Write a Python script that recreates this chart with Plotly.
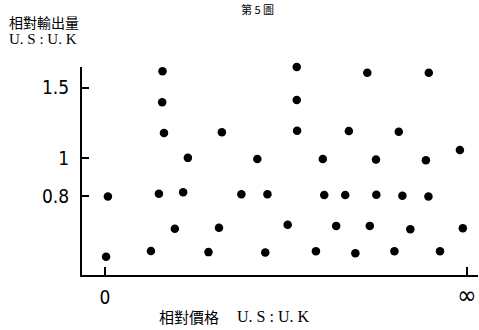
import plotly.graph_objects as go

# Relative price position (0 = "0", 100 = "∞") and relative output (U.S : U.K)
price_pos = [0.8, 0.3, 15.9, 15.8, 16.3, 32.3, 22.9, 42.1, 14.9, 21.6, 37.7, 44.9,
             19.3, 31.5, 12.7, 28.6, 44.3, 53.0, 72.5, 89.5, 53.0, 53.1, 67.4, 81.2,
             98.1, 60.2, 74.9, 88.7, 60.6, 66.4, 75.0, 82.2, 89.4, 50.5, 63.9, 73.2,
             84.4, 98.9, 58.3, 69.2, 80.0, 92.6]
rel_output = [0.80, 0.565, 1.65, 1.38, 1.155, 1.16, 1.0, 0.993, 0.813, 0.82, 0.81, 0.81,
              0.664, 0.668, 0.584, 0.58, 0.579, 1.69, 1.636, 1.636, 1.397, 1.17, 1.168, 1.163,
              1.046, 0.993, 0.99, 0.986, 0.807, 0.807, 0.808, 0.803, 0.80, 0.679, 0.675, 0.675,
              0.662, 0.666, 0.583, 0.576, 0.583, 0.583]

y_tickvals = [0.8, 1, 1.5]
y_ticktext = ["0.8", "1", "1.5"]
x_tickvals = [0, 100]
x_ticktext = ["0", "<span style='font-size:26px'>∞</span>"]

title_text = "第 5 圖"
y_title_1 = "相對輸出量"
y_title_2 = "U. S : U. K"
x_title_cjk = "相對價格"
x_title_lat = "U. S : U. K"

# plot area in pixels
L, R, T, B = 82, 478, 67, 275
W, H = 479, 330

def px(x):
    return (x - L) / (R - L)

def py(y):
    return (B - y) / (B - T)

fig = go.Figure()
fig.add_trace(go.Scatter(
    x=price_pos, y=rel_output, mode="markers",
    marker=dict(color="black", size=8.5, line=dict(width=0)),
    cliponaxis=False, showlegend=False, hoverinfo="skip"))

narrow = "Liberation Sans Narrow, DejaVu Sans Condensed, Arial Narrow, sans-serif"

fig.update_layout(
    width=W, height=H,
    margin=dict(l=L, r=W - R, t=T, b=H - B),
    paper_bgcolor="white", plot_bgcolor="white",
    xaxis=dict(range=[-6.36, 103.1], showgrid=False, zeroline=False,
               showline=True, linecolor="black", linewidth=2,
               tickvals=x_tickvals, ticktext=x_ticktext,
               ticks="inside", ticklen=8, tickwidth=1.5, tickcolor="black",
               ticklabelstandoff=4,
               tickfont=dict(family=narrow, size=19, color="black")),
    yaxis=dict(type="log", range=[-0.294, 0.2281], showgrid=False, zeroline=False,
               showline=True, linecolor="black", linewidth=2,
               tickvals=y_tickvals, ticktext=y_ticktext,
               ticks="inside", ticklen=7, tickwidth=1.5, tickcolor="black",
               ticklabelstandoff=7,
               tickfont=dict(family=narrow, size=19, color="black")),
    annotations=[
        dict(text=title_text, xref="paper", yref="paper", x=px(257), y=py(9),
             xanchor="center", yanchor="middle", showarrow=False,
             font=dict(family="Noto Sans CJK TC", size=11, color="black")),
        dict(text=y_title_1, xref="paper", yref="paper", x=px(7), y=py(22),
             xanchor="left", yanchor="middle", showarrow=False,
             font=dict(family="Noto Sans CJK TC", size=14, color="black")),
        dict(text=y_title_2, xref="paper", yref="paper", x=px(7), y=py(39),
             xanchor="left", yanchor="middle", showarrow=False,
             font=dict(family="Liberation Serif, serif", size=15, color="black")),
        dict(text=x_title_cjk, xref="paper", yref="paper", x=px(157), y=py(316),
             xanchor="left", yanchor="middle", showarrow=False,
             font=dict(family="Noto Sans CJK TC", size=15, color="black")),
        dict(text=x_title_lat, xref="paper", yref="paper", x=px(235), y=py(316),
             xanchor="left", yanchor="middle", showarrow=False,
             font=dict(family="Liberation Serif, serif", size=16, color="black")),
    ],
)

fig.write_html("out.html",
               config={"displayModeBar": False},
               post_script="document.body.style.margin='0';document.body.style.overflow='hidden';")
